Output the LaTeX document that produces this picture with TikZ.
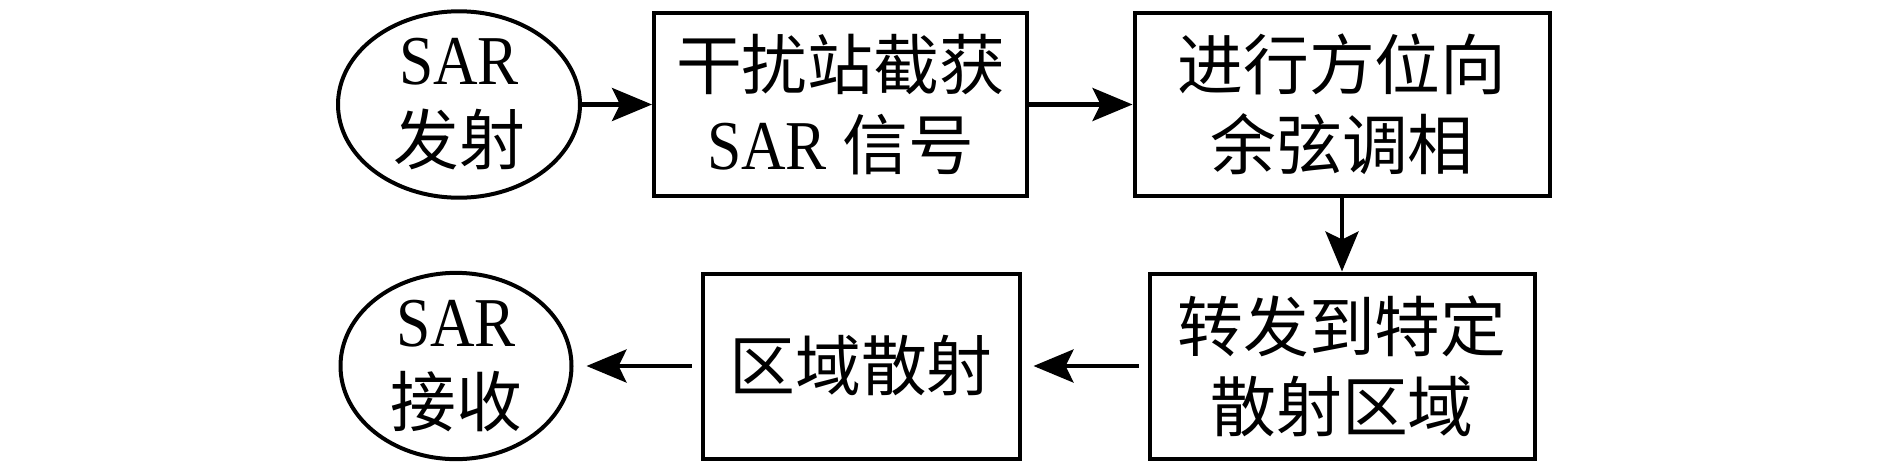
\documentclass[tikz,border=0pt]{standalone}
\usepackage{fontspec}
\setmainfont{Liberation Serif}[FakeStretch=0.88]
\newfontfamily\cjk{Noto Sans CJK SC}[Scale=0.94]
\usetikzlibrary{arrows.meta,shapes.geometric}
\begin{document}
\begin{tikzpicture}[x=1pt,y=-1pt,
  every node/.style={font=\fontsize{70pt}{80pt}\selectfont, align=center, inner sep=0pt},
  stepbox/.style={draw, rectangle, line width=4pt},
  oval/.style={draw, ellipse, line width=4pt},
  arr/.style={-{Stealth[length=40pt,width=33pt,inset=8pt]}, line width=4.5pt}]
\useasboundingbox (0,0) rectangle (1890,472);
\node[oval, minimum width=242pt, minimum height=178pt] (e1) at (459,104.5) {SAR\\{\cjk 发射}};
\node[stepbox, minimum width=373pt, minimum height=183pt] (b1) at (840.5,104.5) {{\cjk 干扰站截获}\\SAR {\cjk 信号}};
\node[stepbox, minimum width=415pt, minimum height=183pt] (b2) at (1342,104.5) {{\cjk 进行方位向}\\{\cjk 余弦调相}};
\node[stepbox, minimum width=385pt, minimum height=185pt] (b3) at (1342,366) {{\cjk 转发到特定}\\{\cjk 散射区域}};
\node[stepbox, minimum width=317pt, minimum height=185pt] (b4) at (861,366) {{\cjk 区域散射}};
\node[oval, minimum width=231pt, minimum height=178pt] (e2) at (456,366) {SAR\\{\cjk 接收}};
\draw[arr] (e1) -- (b1);
\draw[arr] (b1) -- (b2);
\draw[arr] (b2) -- (b3);
\draw[arr, shorten <=9pt, shorten >=12pt] (b3) -- (b4);
\draw[arr, shorten <=9pt, shorten >=13pt] (b4) -- (e2);
\end{tikzpicture}
\end{document}
